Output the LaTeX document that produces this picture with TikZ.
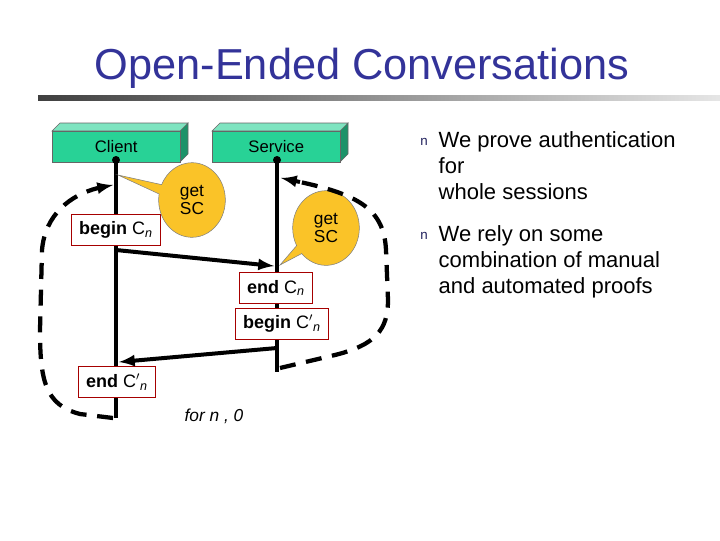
\documentclass[tikz,border=0pt]{standalone}
\usepackage{fontspec}
\setmainfont{Liberation Sans}
\usetikzlibrary{positioning,shapes.callouts}
\definecolor{mytitle}{RGB}{51,51,153}
\definecolor{mygreen}{RGB}{40,210,150}
\colorlet{myred}{red!65!black}
\definecolor{myyellow}{RGB}{250,195,40}
\tikzset{
  event/.style={draw=myred, thick, fill=white, font=\fontsize{13.5}{15}\selectfont, minimum height=23pt, inner xsep=6pt, inner ysep=3pt},
  msg/.style={line width=3pt, -latex},
  loop/.style={line width=3.2pt, dash pattern=on 12pt off 8pt},
  bubble/.style={ellipse callout, draw=black!50, fill=myyellow, align=center,
    font=\fontsize{13}{14}\selectfont, minimum width=50pt, minimum height=56pt, inner sep=0pt}
}
\begin{document}
\begin{tikzpicture}[x=0.75pt, y=-0.75pt]
    \useasboundingbox (0,0) rectangle (720,540);

    % title
    \node (title) at (362,68) {\fontsize{32.5}{36}\selectfont\color{mytitle}Open-Ended Conversations};
    \fill[left color=black!75, right color=black!10] (38,95) rectangle (720,100);

    % principals (3d boxes)
    \foreach \name/\lbl/\x in {cl/Client/52, sv/Service/212}{
        \fill[mygreen!70!black, draw=black!60] (\x+128,131) -- (\x+136,123) -- (\x+136,154) -- (\x+128,162) -- cycle;
        \fill[mygreen!60, draw=black!60] (\x,131) -- (\x+8,123) -- (\x+136,123) -- (\x+128,131) -- cycle;
        \node[draw=black!60, fill=mygreen, minimum width=96pt, minimum height=23pt, anchor=north west,
              inner sep=0pt, font=\fontsize{12.5}{14}\selectfont] (\name) at (\x,131) {\lbl};
    }

    % lifelines
    \coordinate (clTop) at (116,160);
    \coordinate (clEnd) at (116,418);
    \coordinate (svTop) at (277,160);
    \coordinate (svEnd) at (277,372);
    \draw[line width=3pt] (clTop) -- (clEnd);
    \draw[line width=3pt] (svTop) -- (svEnd);
    \fill (clTop) circle (4);
    \fill (svTop) circle (4);

    % events
    \node[event] (beginC) at (116,230) {\textbf{begin} C\textit{\textsubscript{n}}};
    \node[event] (endC) at (276,288) {\textbf{end} C\textit{\textsubscript{n}}};
    \node[event] (beginC2) at (282,324) {\textbf{begin} C\textit{$'$\textsubscript{n}}};
    \node[event] (endC2) at (117,382) {\textbf{end} C\textit{$'$\textsubscript{n}}};

    % messages
    \coordinate (m1s) at (116,250);
    \coordinate (m1e) at (274,266);
    \coordinate (m2s) at (277,348);
    \coordinate (m2e) at (119,362);
    \draw[msg] (m1s) -- (m1e);
    \draw[msg] (m2s) -- (m2e);

    % callouts
    \node[bubble, callout absolute pointer={(118,175)}] (sc1) at (192,200) {get\\SC};
    \node[bubble, callout absolute pointer={(280,265)}] (sc2) at (326,228) {get\\SC};

    % dashed loops
    \draw[loop] (clEnd) ++(-3,0) -- (80,414) .. controls (45,405) and (40,380) .. (40,330)
        -- (42,250) .. controls (45,215) and (70,195) .. (98,188);
    \draw[line width=3pt, -latex] (98,188) -- (113,185);
    \draw[loop] (svEnd) ++(3,-4) -- (335,355) .. controls (375,345) and (388,330) .. (388,300)
        -- (386,250) .. controls (384,210) and (360,195) .. (300,182);
    \draw[line width=3pt, -latex] (300,182) -- (281,178);

    \node[font=\fontsize{13}{14}\selectfont\itshape] (cond) at (214,416) {for n , 0};

    % bullets
    \tikzset{bullet/.style={font=\fontsize{10}{12}\selectfont, text=mytitle!60!black},
             btext/.style={anchor=north west, align=left, font=\fontsize{16.5}{19.5}\selectfont}}
    \node[bullet] (b1) at (424,142) {n};
    \node[btext] (t1) at (434,127) {We prove authentication\\for\\whole sessions};
    \node[bullet] (b2) at (424,236) {n};
    \node[btext] (t2) at (434,221) {We rely on some\\combination of manual\\and automated proofs};
\end{tikzpicture}
\end{document}
